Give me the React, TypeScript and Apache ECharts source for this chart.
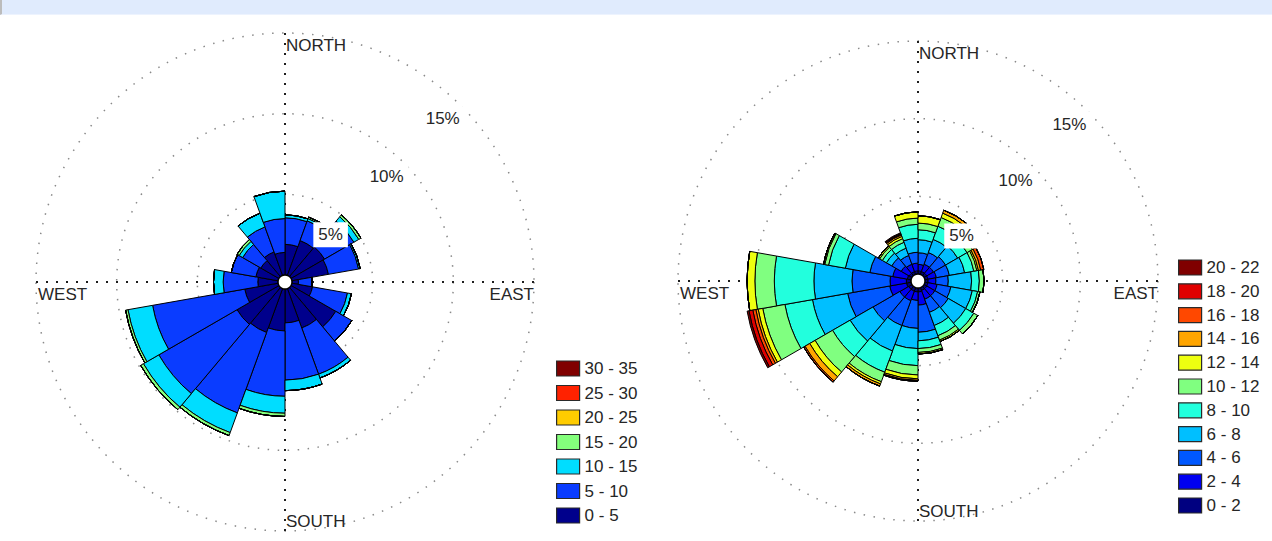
import React, { useEffect, useRef } from 'react';
import * as echarts from 'echarts';

// 18 direction bins of 20 degrees, clockwise from north
const SECTORS = [
  '0-20', '20-40', '40-60', '60-80', '80-100', '100-120', '120-140', '140-160', '160-180',
  '180-200', '200-220', '220-240', '240-260', '260-280', '280-300', '300-320', '320-340', '340-360',
];

const COMPASS = ['NORTH', 'EAST', 'SOUTH', 'WEST'];
const RING_TICKS = [5, 10, 15];
const R_MAX = 15;

// ---- Left rose: speed classes 0-35, frequency (%) per direction ----
const LEFT_BINS = ['0 - 5', '5 - 10', '10 - 15', '15 - 20', '20 - 25', '25 - 30', '30 - 35'];
const LEFT_COLORS = ['#00008c', '#0a3cff', '#00ddff', '#84ff7c', '#ffcc00', '#ff2200', '#800000'];
const L_0_5 = [1.9, 2.3, 2.4, 2.3, 0.4, 1.3, 3.2, 2.6, 2.1, 2.6, 2.9, 3.0, 2.1, 1.25, 1.4, 1.3, 1.55, 1.4];
const L_5_10 = [1.65, 1.3, 2.1, 1.9, 0.85, 2.2, 1.15, 3.05, 3.55, 4.05, 5.3, 5.6, 5.8, 2.15, 1.55, 1.3, 1.65, 2.1];
const L_10_15 = [0.18, 0.15, 0.35, 0.1, 0, 0.25, 0, 0.25, 0.65, 1.05, 1.3, 1.1, 1.55, 0.6, 0, 0.25, 0.9, 1.7];
const L_15_20 = [0, 0.1, 0.15, 0, 0, 0, 0, 0, 0, 0.2, 0.2, 0.2, 0.15, 0, 0, 0.15, 0, 0];
const L_20_25 = [0, 0, 0, 0, 0, 0, 0, 0, 0, 0, 0, 0, 0, 0, 0, 0, 0, 0];
const L_25_30 = [0, 0, 0, 0, 0, 0, 0, 0, 0, 0, 0, 0, 0, 0, 0, 0, 0, 0];
const L_30_35 = [0, 0, 0, 0, 0, 0, 0, 0, 0, 0, 0, 0, 0, 0, 0, 0, 0, 0];
const LEFT_VALUES = [L_0_5, L_5_10, L_10_15, L_15_20, L_20_25, L_25_30, L_30_35];

// ---- Right rose: speed classes 0-22 ----
const RIGHT_BINS = ['0 - 2', '2 - 4', '4 - 6', '6 - 8', '8 - 10', '10 - 12', '12 - 14', '14 - 16', '16 - 18', '18 - 20', '20 - 22'];
const RIGHT_COLORS = ['#000080', '#0000f0', '#0058ff', '#00bfff', '#22ffdd', '#80ff80', '#eeff10', '#ffa500', '#ff4800', '#e00000', '#800000'];
const R_0_2 = [0.2, 0.2, 0.2, 0.2, 0.2, 0.2, 0.2, 0.2, 0.25, 0.25, 0.25, 0.25, 0.3, 0.3, 0.25, 0.2, 0.2, 0.2];
const R_2_4 = [0.42, 0.5, 0.5, 0.55, 0.5, 0.6, 0.6, 0.6, 0.85, 0.55, 0.65, 0.65, 1.1, 1.05, 0.95, 0.6, 0.5, 0.5];
const R_4_6 = [0.75, 0.8, 0.9, 0.85, 0.8, 0.9, 1.0, 0.9, 1.75, 1.8, 1.7, 2.0, 2.75, 2.45, 1.5, 0.7, 0.6, 0.7];
const R_6_8 = [0.84, 0.9, 0.9, 1.0, 1.5, 1.4, 1.3, 0.9, 0.55, 1.3, 1.75, 1.7, 2.3, 2.45, 1.6, 0.4, 0.5, 0.9];
const R_8_10 = [0.64, 0.9, 0.7, 0.6, 0.5, 0.35, 0.6, 0.7, 0.5, 1.1, 1.45, 1.3, 1.8, 2.55, 1.1, 0.3, 0.4, 0.9];
const R_10_12 = [0.43, 0.6, 0.4, 0.2, 0.3, 0.15, 0.3, 0.3, 0.25, 0.6, 0.65, 1.3, 1.45, 1.25, 0.25, 0.2, 0.25, 0.4];
const R_12_14 = [0.47, 0.3, 0.2, 0.1, 0, 0, 0, 0.1, 0.1, 0.25, 0.15, 0.4, 0.3, 0.5, 0.07, 0.1, 0.15, 0.4];
const R_14_16 = [0, 0.2, 0.1, 0.15, 0, 0, 0, 0, 0, 0.1, 0.15, 0.35, 0.15, 0, 0, 0, 0.1, 0];
const R_16_18 = [0, 0, 0, 0.2, 0, 0, 0, 0, 0, 0.05, 0, 0.1, 0.2, 0, 0, 0, 0.05, 0];
const R_18_20 = [0, 0, 0, 0, 0, 0, 0, 0, 0, 0, 0, 0, 0.25, 0, 0, 0, 0.05, 0];
const R_20_22 = [0, 0, 0, 0, 0, 0, 0, 0, 0, 0, 0, 0, 0.12, 0, 0, 0, 0.05, 0];
const RIGHT_VALUES = [R_0_2, R_2_4, R_4_6, R_6_8, R_8_10, R_10_12, R_12_14, R_14_16, R_16_18, R_18_20, R_20_22];

const FONT = '"Liberation Sans", Arial, Helvetica, sans-serif';
const TEXT_COLOR = '#262626';

type Rose = { cx: number; cy: number; inner: number; outer: number };
const LEFT_ROSE: Rose = { cx: 285, cy: 282, inner: 7, outer: 249 };
const RIGHT_ROSE: Rose = { cx: 918, cy: 281, inner: 7, outer: 240 };

function txt(x: number, y: number, text: string, size: number, align: string, extra: any = {}) {
  return {
    type: 'text',
    x,
    y,
    z: 30,
    silent: true,
    style: {
      text,
      fill: TEXT_COLOR,
      font: `${size}px ${FONT}`,
      align,
      textAlign: align,
      verticalAlign: 'middle',
      textVerticalAlign: 'middle',
      ...extra,
    },
  };
}

function roseDecor(rose: Rose) {
  const { cx, cy, inner, outer } = rose;
  const toPx = (v: number) => inner + (v / R_MAX) * (outer - inner);
  const els: any[] = [];
  const a = (44 * Math.PI) / 180;
  RING_TICKS.forEach((v) => {
    const d = toPx(v) - 22;
    els.push(
      txt(cx + d * Math.sin(a), cy - d * Math.cos(a), `${v}%`, 17, 'center', {
        backgroundColor: '#ffffff',
        padding: [4, 5],
      })
    );
  });
  els.push(txt(cx + 1, cy - outer + 12, COMPASS[0], 17, 'left'));
  els.push(txt(cx + outer, cy + 12, COMPASS[1], 17, 'right'));
  els.push(txt(cx + 1, cy + outer - 10, COMPASS[2], 17, 'left'));
  els.push(txt(cx - outer + 2, cy + 12, COMPASS[3], 17, 'left'));
  els.push({
    type: 'circle',
    z: 25,
    silent: true,
    shape: { cx, cy, r: inner },
    style: { fill: '#ffffff', stroke: '#000000', lineWidth: 1.5 },
  });
  return els;
}

function polarPair(rose: Rose) {
  const p = { center: [rose.cx, rose.cy], radius: [rose.inner, rose.outer] };
  return [p, { ...p }];
}

function gridAngle(polarIndex: number) {
  return {
    polarIndex,
    type: 'value',
    min: 0,
    max: 360,
    interval: 90,
    startAngle: 90,
    clockwise: true,
    axisLine: { show: false },
    axisTick: { show: false },
    axisLabel: { show: false },
    splitLine: { show: true, lineStyle: { color: '#1e1e1e', width: 2, type: [2, 8] } },
  };
}

function gridRadius(polarIndex: number) {
  return {
    polarIndex,
    type: 'value',
    min: 0,
    max: R_MAX,
    interval: 5,
    axisLine: { show: false },
    axisTick: { show: false },
    axisLabel: { show: false },
    splitLine: { show: true, lineStyle: { color: '#8a8a8a', width: 1.5, type: [1.5, 8.5] } },
  };
}

function barAngle(polarIndex: number) {
  return {
    polarIndex,
    type: 'category',
    data: SECTORS,
    startAngle: 90,
    clockwise: true,
    boundaryGap: true,
    show: false,
  };
}

function barRadius(polarIndex: number) {
  return { polarIndex, type: 'value', min: 0, max: R_MAX, show: false };
}

function roseSeries(names: string[], colors: string[], values: number[][], polarIndex: number, stack: string) {
  return names.map((name, i) => ({
    name,
    type: 'bar',
    coordinateSystem: 'polar',
    polarIndex,
    stack,
    data: values[i],
    barCategoryGap: '0%',
    barGap: '0%',
    silent: true,
    itemStyle: { color: colors[i], borderColor: '#000000', borderWidth: 1 },
  }));
}

function legendFor(names: string[], left: number, top: number, gap: number) {
  return {
    data: [...names].reverse(),
    left,
    top,
    padding: 0,
    orient: 'vertical',
    icon: 'rect',
    itemWidth: 23,
    itemHeight: 15,
    itemGap: gap,
    selectedMode: false,
    itemStyle: { borderColor: '#2a2a2a', borderWidth: 1.2 },
    textStyle: { color: TEXT_COLOR, fontSize: 17, fontFamily: FONT, lineHeight: 15 },
  };
}

export default function App() {
  const ref = useRef<HTMLDivElement>(null);

  useEffect(() => {
    if (!ref.current) return;
    const chart = echarts.init(ref.current, undefined, { renderer: 'svg' });
    const option: any = {
      animation: false,
      backgroundColor: '#ffffff',
      polar: [...polarPair(LEFT_ROSE), ...polarPair(RIGHT_ROSE)],
      angleAxis: [gridAngle(0), barAngle(1), gridAngle(2), barAngle(3)],
      radiusAxis: [gridRadius(0), barRadius(1), gridRadius(2), barRadius(3)],
      legend: [legendFor(LEFT_BINS, 556, 360, 7.5), legendFor(RIGHT_BINS, 1178, 259, 6.8)],
      series: [
        ...roseSeries(LEFT_BINS, LEFT_COLORS, LEFT_VALUES, 1, 'left'),
        ...roseSeries(RIGHT_BINS, RIGHT_COLORS, RIGHT_VALUES, 3, 'right'),
      ],
      graphic: { elements: [...roseDecor(LEFT_ROSE), ...roseDecor(RIGHT_ROSE)] },
    };
    chart.setOption(option);
    return () => chart.dispose();
  }, []);

  return (
    <div style={{ position: 'absolute', left: 0, top: 0, width: 1272, height: 541, background: '#ffffff' }}>
      <div ref={ref} style={{ position: 'absolute', left: 0, top: 0, width: 1272, height: 541 }} />
      <div
        style={{
          position: 'absolute',
          left: 0,
          top: 0,
          width: 1272,
          height: 15,
          background: '#e0ebfd',
          borderLeft: '2px solid #bcbcbc',
          boxSizing: 'border-box',
          borderBottom: '1px solid #edf3fe',
        }}
      />
    </div>
  );
}
